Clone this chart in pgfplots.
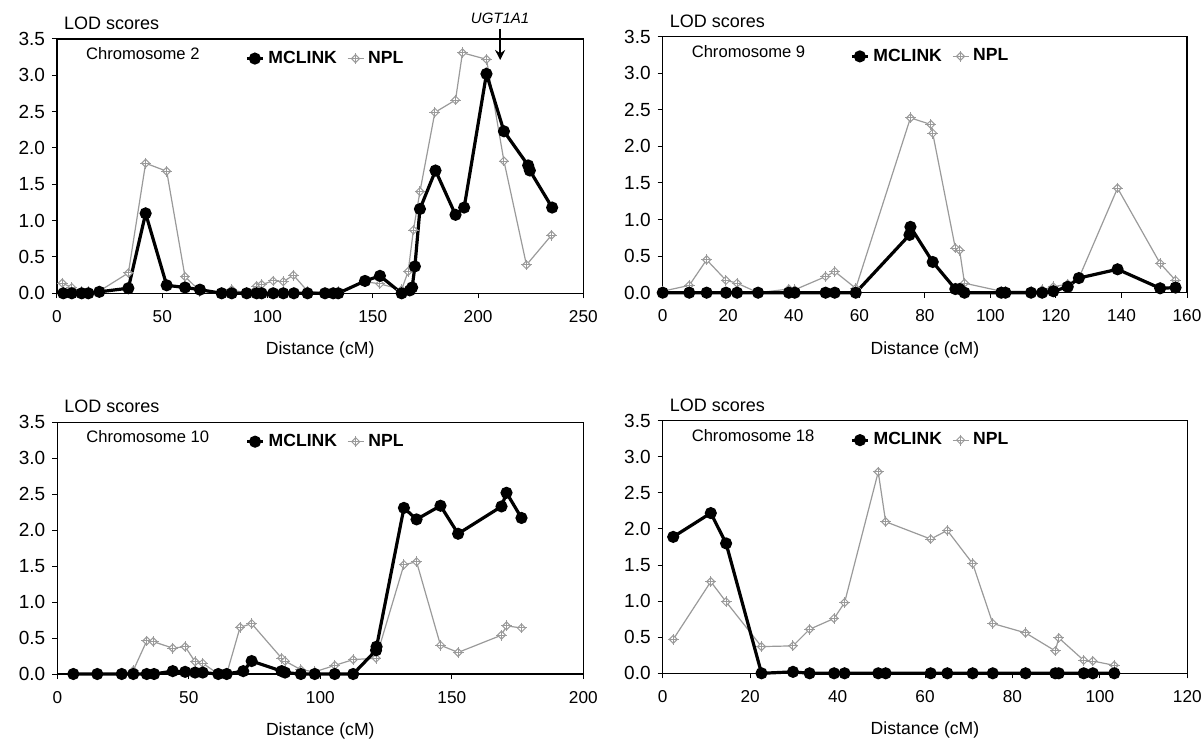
\documentclass[border=0pt]{standalone}
\usepackage{fontspec}
\setmainfont{Liberation Sans}
\usepackage{pgfplots}
\pgfplotsset{compat=1.18}
\usetikzlibrary{arrows.meta}
\definecolor{nplgray}{HTML}{9A9A9A}

% diamond with a cross through it, like the NPL marker
\pgfdeclareplotmark{dplus}{%
  \pgfpathmoveto{\pgfpoint{0pt}{\pgfplotmarksize}}%
  \pgfpathlineto{\pgfpoint{\pgfplotmarksize}{0pt}}%
  \pgfpathlineto{\pgfpoint{0pt}{-\pgfplotmarksize}}%
  \pgfpathlineto{\pgfpoint{-\pgfplotmarksize}{0pt}}%
  \pgfpathclose
  \pgfusepathqfillstroke
  \pgfpathmoveto{\pgfpoint{0pt}{1.35\pgfplotmarksize}}%
  \pgfpathlineto{\pgfpoint{0pt}{-1.35\pgfplotmarksize}}%
  \pgfpathmoveto{\pgfpoint{-1.35\pgfplotmarksize}{0pt}}%
  \pgfpathlineto{\pgfpoint{1.35\pgfplotmarksize}{0pt}}%
  \pgfusepathqstroke
}

\pgfplotsset{
  panel/.style={
    scale only axis, clip=false,
    ymin=0, ymax=3.5, ytick={0,0.5,1,1.5,2,2.5,3,3.5},
    axis line style={line width=0.7pt},
    tick pos=left, tick align=outside, major tick length=2.5pt,
    tick style={line width=0.5pt, black},
    /pgf/number format/assume math mode=true,
    yticklabel style={font=\fontsize{9.5}{10}\selectfont,
      /pgf/number format/fixed, /pgf/number format/fixed zerofill,
      /pgf/number format/precision=1},
    xticklabel style={font=\fontsize{8.6}{10}\selectfont, yshift=-2.5pt},
    xlabel={Distance (cM)},
    xlabel style={font=\fontsize{8.8}{10}\selectfont,
      at={(axis description cs:0.5,0)}, anchor=center, yshift=-28.5pt},
    legend style={at={(0.357,0.923)}, anchor=west, draw=none, fill=none,
      inner sep=0pt, font=\bfseries\fontsize{8.8}{10}\selectfont,
      legend columns=2, /tikz/every even column/.append style={column sep=3pt}},
    legend image code/.code={\draw[mark repeat=2,mark phase=2]
      plot coordinates {(0pt,0pt)(4pt,0pt)(8pt,0pt)};},
  },
  mcl/.style={black, line width=1.6pt, mark=*, mark size=2.2pt},
  npl/.style={nplgray, line width=0.6pt, mark=dplus, mark size=2pt,
    mark options={fill=white, line width=0.5pt}},
}
\newcommand{\lod}{\node[anchor=base west, font=\fontsize{9}{10}\selectfont, yshift=4.8pt] at (rel axis cs:0,1) {LOD scores};}
\newcommand{\chrom}[1]{\node[anchor=base west, font=\fontsize{8.3}{10}\selectfont, xshift=11pt, yshift=-10.2pt] at (rel axis cs:0,1) {Chromosome #1};}

\begin{document}
\begin{tikzpicture}
\useasboundingbox (0,0) rectangle (601pt,369pt);

% Chromosome 2
\begin{axis}[panel, at={(28.5pt,222.35pt)}, anchor=south west,
  width=263.15pt, height=127.15pt, xmin=0, xmax=250, xtick={0,50,100,150,200,250}]
\addplot[npl, forget plot] coordinates {
(2.5,0.14)(7.0,0.08)(11.7,0.02)(14.9,0.02)(20.1,0.03)(33.9,0.28)(42.1,1.79)
(52.1,1.68)(60.8,0.23)(67.9,0.03)(78.2,0)(83.0,0.05)(90.1,0)(94.8,0.10)
(97.2,0.12)(102.7,0.17)(107.5,0.16)(112.3,0.25)(119.0,0.03)(127.3,0)(131.2,0)
(133.6,0.02)(146.3,0.16)(153.4,0.13)(163.7,0.05)(166.8,0.30)(169.3,0.87)
(172.4,1.40)(179.5,2.49)(189.3,2.66)(192.6,3.31)(204.0,3.22)(212.3,1.82)
(223.0,0.39)(234.9,0.80)};
\addplot[mcl] coordinates {
(3.0,0)(7.0,0)(11.7,0)(14.9,0)(20.1,0.02)(33.9,0.07)(42.1,1.10)(52.1,0.11)
(60.8,0.08)(67.9,0.05)(78.2,0)(83.0,0)(90.1,0)(94.8,0)(97.2,0)(102.7,0)
(107.5,0)(112.5,0)(119.0,0)(127.3,0)(131.2,0)(133.6,0)(146.3,0.17)(153.4,0.24)
(163.7,0)(167.6,0.04)(168.7,0.08)(170.0,0.37)(172.4,1.16)(179.8,1.69)
(189.3,1.08)(193.4,1.18)(204.0,3.02)(212.3,2.23)(223.8,1.76)(224.6,1.69)
(235.2,1.18)};
\addlegendentry{MCLINK}
\addlegendimage{npl}
\addlegendentry{NPL}
\lod \chrom{2}
\node[font=\itshape\fontsize{7.5}{9}\selectfont, yshift=10.5pt] at (axis cs:210.5,3.5) {UGT1A1};
\draw[-{Stealth[length=5pt,width=5pt]}, line width=1pt]
  ([yshift=5pt]axis cs:210.5,3.5) -- ([yshift=-10.5pt]axis cs:210.5,3.5);
\end{axis}

% Chromosome 9
\begin{axis}[panel, at={(331.35pt,222.65pt)}, anchor=south west,
  width=262.15pt, height=128pt, xmin=0, xmax=160, xtick={0,20,...,160}]
\addplot[npl, forget plot] coordinates {
(0,0.02)(8.1,0.10)(13.4,0.45)(19.3,0.17)(22.7,0.13)(29.1,0)(38.5,0.05)
(40.3,0.04)(49.7,0.22)(52.5,0.29)(58.9,0.06)(75.6,2.39)(81.8,2.30)(82.4,2.18)
(89.3,0.61)(90.6,0.58)(92.1,0.13)(103.3,0.02)(104.6,0.02)(112.4,0.02)
(115.8,0.04)(119.2,0.08)(123.6,0.12)(127.0,0.20)(138.8,1.43)(151.8,0.40)
(156.5,0.17)};
\addplot[mcl] coordinates {
(0,0)(8.1,0)(13.4,0)(19.3,0)(22.7,0)(29.1,0)(38.5,0)(40.3,0)(49.7,0)(52.5,0)
(58.9,0)(75.3,0.79)(75.6,0.90)(82.4,0.42)(89.3,0.05)(90.6,0.05)(92.1,0)
(103.3,0)(104.6,0)(112.4,0)(115.8,0)(119.2,0.02)(123.6,0.08)(127.0,0.20)
(138.8,0.32)(151.8,0.06)(156.5,0.07)};
\addlegendentry{MCLINK}
\addlegendimage{npl}
\addlegendentry{NPL}
\lod \chrom{9}
\end{axis}

% Chromosome 10
\begin{axis}[panel, at={(28.65pt,32pt)}, anchor=south west,
  width=263pt, height=125.85pt, xmin=0, xmax=200, xtick={0,50,100,150,200}]
\addplot[npl, forget plot] coordinates {
(6.1,0)(15.2,0)(24.5,0)(28.9,0.05)(34.0,0.46)(36.5,0.45)(43.9,0.36)(48.6,0.38)
(52.4,0.17)(55.3,0.15)(61.2,0)(64.4,0)(69.5,0.65)(73.9,0.70)(85.3,0.22)
(86.6,0.18)(92.6,0.06)(97.9,0.03)(105.5,0.12)(112.5,0.20)(121.2,0.22)
(131.8,1.52)(136.6,1.56)(145.7,0.40)(152.4,0.30)(168.9,0.54)(170.8,0.67)
(176.5,0.64)};
\addplot[mcl] coordinates {
(6.1,0)(15.2,0)(24.5,0)(28.9,0)(34.0,0)(36.8,0)(43.9,0.04)(48.6,0.03)
(52.4,0.02)(55.3,0.02)(61.2,0)(64.4,0)(70.7,0.04)(73.9,0.18)(85.3,0.04)
(86.6,0.02)(92.6,0)(97.9,0)(105.5,0)(112.5,0)(121.2,0.33)(121.4,0.38)
(131.8,2.31)(136.6,2.15)(145.7,2.34)(152.4,1.95)(168.9,2.33)(170.8,2.52)
(176.5,2.17)};
\addlegendentry{MCLINK}
\addlegendimage{npl}
\addlegendentry{NPL}
\lod \chrom{10}
\end{axis}

% Chromosome 18
\begin{axis}[panel, at={(331.35pt,32.35pt)}, anchor=south west,
  width=262.3pt, height=126.3pt, xmin=0, xmax=120, xtick={0,20,...,120}]
\addplot[npl, forget plot] coordinates {
(2.4,0.47)(11.0,1.27)(14.5,0.99)(22.6,0.37)(29.8,0.38)(33.6,0.61)(39.2,0.76)
(41.6,0.98)(49.3,2.79)(51.0,2.10)(61.3,1.86)(65.1,1.98)(70.9,1.52)(75.5,0.69)
(83.0,0.56)(89.8,0.31)(90.6,0.49)(96.3,0.18)(98.4,0.17)(103.3,0.11)};
\addplot[mcl] coordinates {
(2.4,1.89)(11.0,2.22)(14.5,1.80)(22.6,0)(29.8,0.02)(33.6,0)(39.2,0)(41.6,0)
(49.3,0)(51.0,0)(61.3,0)(65.1,0)(70.9,0)(75.5,0)(83.0,0)(89.8,0)(90.6,0)
(96.3,0)(98.4,0)(103.3,0)};
\addlegendentry{MCLINK}
\addlegendimage{npl}
\addlegendentry{NPL}
\lod \chrom{18}
\end{axis}
\end{tikzpicture}
\end{document}
